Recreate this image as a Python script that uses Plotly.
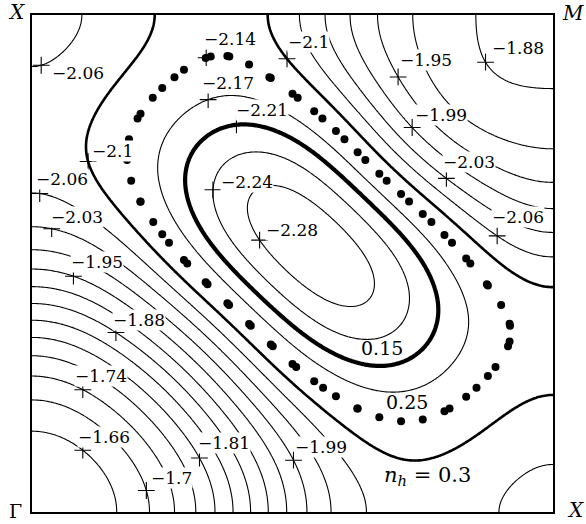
import numpy as np
import plotly.graph_objects as go

# Quasiparticle band E(k) over the quarter zone, k in units of pi.
# Sampled points (kx, ky) lying on the drawn iso-energy levels, grouped by level index.
LEVEL_START = -2.281
LEVEL_STEP = 0.0363
N_LEVELS = 18

lev0 = [(0.428, 0.541), (0.418, 0.642), (0.413, 0.602), (0.463, 0.662), (0.572, 0.608),
        (0.591, 0.588), (0.662, 0.467), (0.630, 0.416), (0.514, 0.447)]
lev1 = [(0.351, 0.648), (0.380, 0.724), (0.355, 0.602), (0.380, 0.547), (0.393, 0.507),
        (0.693, 0.366), (0.726, 0.427), (0.643, 0.588)]
lev2 = [(0.392, 0.783), (0.342, 0.755), (0.303, 0.702), (0.294, 0.668), (0.299, 0.602),
        (0.342, 0.547), (0.367, 0.507), (0.482, 0.755), (0.572, 0.702), (0.514, 0.362),
        (0.643, 0.300), (0.706, 0.306), (0.777, 0.392), (0.770, 0.453), (0.687, 0.588)]
lev3 = [(0.336, 0.835), (0.355, 0.843), (0.438, 0.829), (0.290, 0.809), (0.251, 0.748),
        (0.242, 0.702), (0.251, 0.634), (0.278, 0.588), (0.309, 0.533), (0.514, 0.320),
        (0.643, 0.252), (0.770, 0.260), (0.835, 0.360), (0.816, 0.427), (0.726, 0.588),
        (0.491, 0.799)]
lev4 = [(0.321, 0.915), (0.292, 0.895), (0.269, 0.875), (0.248, 0.853), (0.228, 0.833),
        (0.203, 0.793), (0.186, 0.748), (0.180, 0.708), (0.188, 0.664), (0.205, 0.628),
        (0.230, 0.584), (0.261, 0.541), (0.294, 0.503), (0.332, 0.459), (0.372, 0.416),
        (0.415, 0.376), (0.457, 0.332), (0.501, 0.294), (0.539, 0.264), (0.582, 0.233),
        (0.620, 0.211), (0.662, 0.191), (0.701, 0.183), (0.750, 0.191), (0.795, 0.207),
        (0.831, 0.233), (0.871, 0.272), (0.896, 0.294), (0.917, 0.332), (0.925, 0.374),
        (0.906, 0.416), (0.873, 0.457), (0.839, 0.497), (0.800, 0.541), (0.762, 0.584),
        (0.722, 0.624), (0.681, 0.668), (0.635, 0.708), (0.593, 0.753), (0.549, 0.795),
        (0.499, 0.839), (0.459, 0.875), (0.415, 0.907), (0.374, 0.930), (0.332, 0.920)]
lev5 = [(0.223, 1.000), (0.213, 0.950), (0.182, 0.875), (0.144, 0.815), (0.107, 0.763),
        (0.098, 0.728), (0.104, 0.704), (0.121, 0.668), (0.150, 0.628), (0.194, 0.581),
        (0.246, 0.527), (0.322, 0.457), (0.418, 0.352), (0.514, 0.245), (0.610, 0.163),
        (0.679, 0.121), (0.731, 0.103), (0.808, 0.137), (0.891, 0.191), (0.954, 0.221),
        (1.000, 0.229), (0.457, 1.000), (0.466, 0.964), (0.491, 0.913), (0.528, 0.875),
        (0.578, 0.829), (0.643, 0.759), (0.712, 0.668), (0.775, 0.614), (0.839, 0.553),
        (0.891, 0.507), (0.948, 0.473), (1.000, 0.453), (0.386, 0.386)]
lev6 = [(0.086, 1.0), (0.0, 0.905), (0.015, 0.909), (0.060, 0.975), (0.0, 0.642), (0.643, 0.0),
        (0.015, 0.642), (0.514, 1.0), (1.0, 0.515), (0.891, 0.553)]
lev7 = [(0.0, 0.577), (0.562, 0.0), (0.038, 0.571), (0.562, 1.0), (1.0, 0.563), (0.791, 0.666)]
lev8 = [(0.0, 0.533), (0.528, 0.0), (0.495, 0.101), (0.607, 1.0), (1.0, 0.610),
        (0.729, 0.773), (0.324, 0.324)]
lev9 = [(0.0, 0.491), (0.490, 0.0), (0.079, 0.473), (0.662, 1.0), (1.0, 0.662), (0.702, 0.875)]
lev10 = [(0.0, 0.453), (0.453, 0.0), (0.731, 1.0), (1.0, 0.734)]
lev11 = [(0.0, 0.421), (0.418, 0.0), (0.163, 0.364), (0.858, 1.0), (1.0, 0.863),
         (0.887, 0.915), (0.262, 0.262)]
lev12 = [(0.0, 0.386), (0.386, 0.0)]
lev13 = [(0.0, 0.352), (0.351, 0.0), (0.326, 0.111)]
lev14 = [(0.0, 0.314), (0.313, 0.0)]
lev15 = [(0.0, 0.274), (0.274, 0.0), (0.098, 0.247), (0.190, 0.190)]
lev16 = [(0.0, 0.223), (0.221, 0.0), (0.215, 0.042)]
lev17 = [(0.0, 0.161), (0.159, 0.0), (0.098, 0.125), (0.113, 0.113)]

# band energies at high-symmetry / extremal points
special_k = [(0.0, 0.0), (1.0, 1.0), (0.0, 1.0), (0.535, 0.535), (0.0, 0.77), (0.34, 1.0)]
special_e = [-1.626, -1.868, -2.049, -2.296, -2.080, -2.115]

# Fermi-surface levels (index into the level list) and hole densities
FS_THICK, FS_DOTTED, FS_MEDIUM = 2, 4, 5
fs_density = ["0.15", "0.25", "0.3"]

# k-mesh on which the band was tabulated (the dotted surface marks its crossings)
MESH_DIV = 24

levels = LEVEL_START + LEVEL_STEP * np.arange(N_LEVELS)
groups = [lev0, lev1, lev2, lev3, lev4, lev5, lev6, lev7, lev8, lev9, lev10, lev11,
          lev12, lev13, lev14, lev15, lev16, lev17]
group_weight = [1.0] * N_LEVELS
group_weight[6] = 2.0

# ---- smooth symmetric (kx <-> ky) cosine expansion fitted to the samples ----
NH = 5
pairs = [(m, n) for m in range(NH + 1) for n in range(m, NH + 1)]


def basis(x, y):
    x = np.asarray(x, float)
    y = np.asarray(y, float)
    cols = [np.cos(m * np.pi * x) * np.cos(n * np.pi * y) + np.cos(n * np.pi * x) * np.cos(m * np.pi * y)
            for m, n in pairs]
    return np.stack(cols, axis=-1)


kx_s, ky_s, e_s, w_s = [], [], [], []
for i, g in enumerate(groups):
    for (a, b) in g:
        kx_s.append(a); ky_s.append(b); e_s.append(levels[i]); w_s.append(group_weight[i])
for (a, b), e in zip(special_k, special_e):
    kx_s.append(a); ky_s.append(b); e_s.append(e); w_s.append(2.0)
kx_s, ky_s, e_s, w_s = map(np.array, (kx_s, ky_s, e_s, w_s))

A = basis(kx_s, ky_s) * w_s[:, None]
rhs = e_s * w_s
ridge = np.diag([2e-6 * (m * m + n * n) ** 2 for m, n in pairs])
coef = np.linalg.solve(A.T @ A + ridge, A.T @ rhs)


def energy(x, y):
    return basis(x, y) @ coef


grid = np.linspace(0.0, 1.0, 301)
GX, GY = np.meshgrid(grid, grid)
Z = energy(GX, GY)

fig = go.Figure()


def iso_trace(lo, hi, width):
    return go.Contour(
        x=grid, y=grid, z=Z, autocontour=False,
        contours=dict(start=lo, end=hi, size=LEVEL_STEP, coloring="none"),
        line=dict(color="black", width=width, smoothing=1.0),
        showscale=False, hoverinfo="skip",
    )


eps = 0.25 * LEVEL_STEP
fig.add_trace(iso_trace(levels[0], levels[1] + eps, 1.1))
fig.add_trace(iso_trace(levels[3], levels[3] + eps, 1.1))
fig.add_trace(iso_trace(levels[6], levels[-1] + eps, 1.1))
fig.add_trace(iso_trace(levels[FS_MEDIUM], levels[FS_MEDIUM] + eps, 2.6))
fig.add_trace(iso_trace(levels[FS_THICK], levels[FS_THICK] + eps, 4.2))

# ---- dotted Fermi surface: its crossings with the k-mesh lines ----
fine = np.linspace(0.0, 1.0, 4001)
mesh = np.arange(MESH_DIV + 1) / MESH_DIV
dot_x, dot_y = [], []
for m in mesh:
    # vertical mesh line kx = m
    v = energy(np.full_like(fine, m), fine) - levels[FS_DOTTED]
    idx = np.where(np.sign(v[:-1]) != np.sign(v[1:]))[0]
    for i in idx:
        f = v[i] / (v[i] - v[i + 1])
        dot_x.append(m)
        dot_y.append(fine[i] + f * (fine[i + 1] - fine[i]))
    # horizontal mesh line ky = m
    v = energy(fine, np.full_like(fine, m)) - levels[FS_DOTTED]
    idx = np.where(np.sign(v[:-1]) != np.sign(v[1:]))[0]
    for i in idx:
        f = v[i] / (v[i] - v[i + 1])
        dot_x.append(fine[i] + f * (fine[i + 1] - fine[i]))
        dot_y.append(m)
fig.add_trace(go.Scatter(x=dot_x, y=dot_y, mode="markers",
                         marker=dict(size=8, color="black"), hoverinfo="skip", showlegend=False))

# ---- contour labels: "+" snapped onto the level near the given spot ----
label_spots = [  # (level index, kx, ky, text dx px, baseline dy px)
    (6, 0.015, 0.909, 10, -15),
    (5, 0.104, 0.704, 3, 4),
    (6, 0.015, 0.642, -5, 8),
    (7, 0.038, 0.571, -2, 5),
    (9, 0.079, 0.473, -3, 7),
    (11, 0.163, 0.364, -4, 6),
    (15, 0.098, 0.247, -9, 7),
    (17, 0.098, 0.125, -6, 6),
    (16, 0.215, 0.042, 4, 6),
    (13, 0.326, 0.111, -2, 8),
    (8, 0.495, 0.101, 0, 6),
    (4, 0.332, 0.920, -3, 12),
    (3, 0.336, 0.835, -7, 10),
    (2, 0.392, 0.783, -1, 8),
    (1, 0.351, 0.648, 7, 1),
    (0, 0.428, 0.541, 5, 3),
    (5, 0.491, 0.913, 0, 10),
    (9, 0.702, 0.875, 1, 10),
    (11, 0.887, 0.915, 5, 7),
    (8, 0.729, 0.773, 2, 6),
    (7, 0.791, 0.666, -4, 9),
    (6, 0.891, 0.553, -6, 12),
]


def snap(k, x, y):
    p = np.array([x, y], float)
    for _ in range(30):
        h = 1e-4
        e0 = energy(p[0], p[1])
        gx = (energy(p[0] + h, p[1]) - energy(p[0] - h, p[1])) / (2 * h)
        gy = (energy(p[0], p[1] + h) - energy(p[0], p[1] - h)) / (2 * h)
        g2 = gx * gx + gy * gy
        if g2 < 1e-12:
            break
        p = p - (e0 - levels[k]) * np.array([gx, gy]) / g2
        p = np.clip(p, 0.0, 1.0)
    return p


def fmt(v):
    t = f"{v:.2f}".rstrip("0").rstrip(".")
    return t.replace("-", "\u2212")


cross_x, cross_y = [], []
annotations = []
for k, x, y, dx, dy in label_spots:
    px, py = snap(k, x, y)
    cross_x.append(px)
    cross_y.append(py)
    annotations.append(dict(
        x=px, y=py, xref="x", yref="y", text=fmt(levels[k]), showarrow=False,
        xanchor="left", yanchor="bottom", xshift=dx, yshift=dy - 4,
        bgcolor="white", borderpad=0,
        font=dict(family="DejaVu Serif", size=17, color="black"),
    ))

fig.add_trace(go.Scatter(x=cross_x, y=cross_y, mode="markers",
                         marker=dict(symbol="cross-thin", size=12, color="black",
                                     line=dict(width=1.1, color="black")),
                         hoverinfo="skip", showlegend=False))

# Fermi-surface density labels
serif = dict(family="DejaVu Serif", size=19, color="black")
annotations += [
    dict(x=0.672, y=0.330, xref="x", yref="y", text=fs_density[0], showarrow=False, font=serif),
    dict(x=0.720, y=0.221, xref="x", yref="y", text=fs_density[1], showarrow=False, font=serif),
    dict(x=0.760, y=0.072, xref="x", yref="y",
         text="<i>n</i><sub><i>h</i></sub> = " + fs_density[2], showarrow=False,
         font=dict(family="DejaVu Serif", size=21, color="black")),
]

# corner (high-symmetry point) labels
corner = dict(family="DejaVu Serif", size=20, color="black")
for cx, cy, size, txt in [(-0.029, 1.006, 20, "<i>X</i>"), (1.038, 1.004, 20, "<i>M</i>"),
                          (-0.031, 0.002, 19, "\u0393"), (1.044, 0.004, 20, "<i>X</i>")]:
    annotations.append(dict(x=cx, y=cy, xref="paper", yref="paper", text=txt,
                            showarrow=False, xanchor="center", yanchor="middle",
                            font=dict(corner, size=size)))

axis = dict(range=[0, 1], showgrid=False, zeroline=False, showticklabels=False, ticks="",
            showline=True, mirror=True, linecolor="black", linewidth=1.6)
fig.update_layout(
    width=586, height=524,
    margin=dict(l=32, r=33, t=15, b=12),
    paper_bgcolor="white", plot_bgcolor="white",
    xaxis=axis, yaxis=axis,
    showlegend=False,
    annotations=annotations,
)

fig.write_html("out.html")
